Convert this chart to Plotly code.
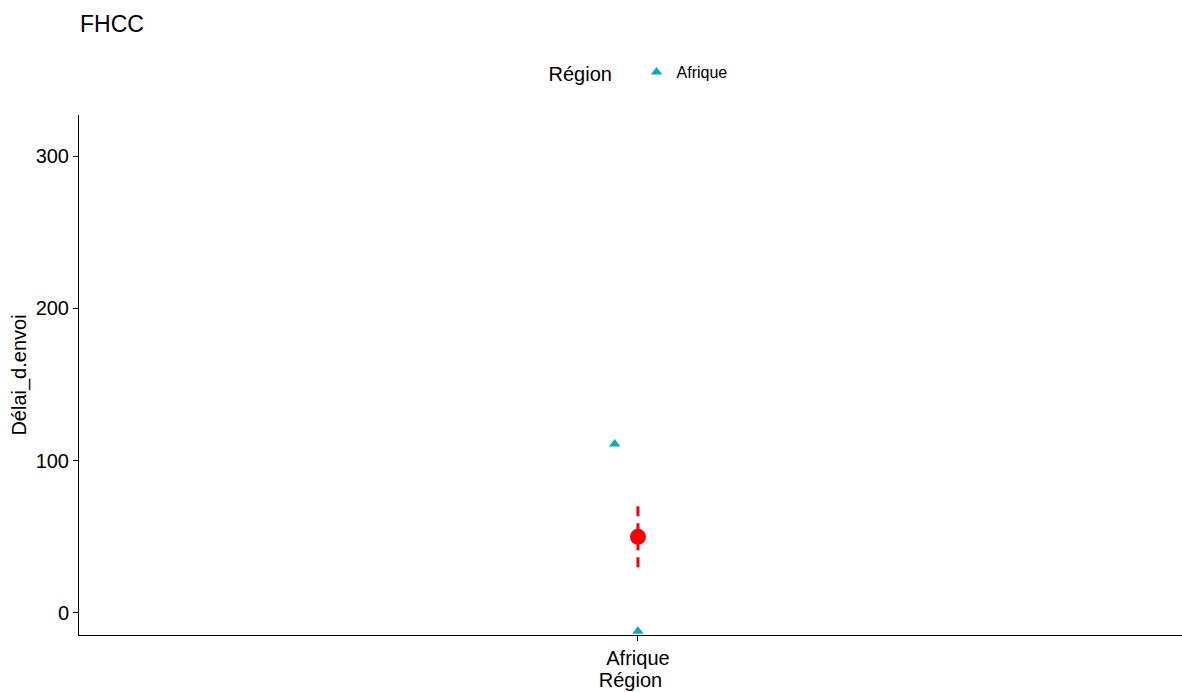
import plotly.graph_objects as go

# Observations per region
regions = ["Afrique", "Afrique"]
delai_values = [111, -12]
jitter = [-0.025, 0.0]

# Summary (mean with interval) per region
summary_regions = ["Afrique"]
summary_mean = [50]
summary_low = [30]
summary_high = [71]

categories = ["Afrique"]
y_ticks = [0, 100, 200, 300]

teal = "#00AFBB"
cat_pos = {c: i + 1 for i, c in enumerate(categories)}

fig = go.Figure()

fig.add_trace(go.Scatter(
    x=[cat_pos[r] + j for r, j in zip(regions, jitter)],
    y=delai_values,
    mode="markers",
    name="Afrique",
    marker=dict(symbol="triangle-up", size=10, color=teal),
    showlegend=True,
))

for r, lo, hi in zip(summary_regions, summary_low, summary_high):
    fig.add_trace(go.Scatter(
        x=[cat_pos[r], cat_pos[r]],
        y=[lo, hi],
        mode="lines",
        line=dict(color="red", width=3, dash="10px,7px"),
        showlegend=False,
        hoverinfo="skip",
    ))

fig.add_trace(go.Scatter(
    x=[cat_pos[r] for r in summary_regions],
    y=summary_mean,
    mode="markers",
    marker=dict(symbol="circle", size=16, color="red"),
    showlegend=False,
))

fig.update_layout(
    width=1182,
    height=692,
    paper_bgcolor="white",
    plot_bgcolor="white",
    margin=dict(l=79, r=0, t=115, b=57),
    font=dict(family="Liberation Sans, Arial, sans-serif", color="black"),
    title=dict(
        text="FHCC",
        x=80 / 1182,
        xanchor="left",
        y=1 - 24 / 692,
        yanchor="middle",
        font=dict(size=23, color="black"),
    ),
    legend=dict(
        orientation="h",
        x=501 / 1182,
        xanchor="left",
        y=1 + 42 / 520,
        yanchor="middle",
        title=dict(text="Région   ", font=dict(size=20)),
        font=dict(size=16),
        bgcolor="rgba(0,0,0,0)",
    ),
    xaxis=dict(
        range=[0.4, 1.584],
        tickvals=list(cat_pos.values()),
        ticktext=categories,
        showgrid=False,
        zeroline=False,
        showline=True,
        linecolor="black",
        linewidth=1,
        ticks="outside",
        ticklen=5,
        tickcolor="black",
        tickfont=dict(size=20, color="black"),
        title=dict(text="Région", font=dict(size=20), standoff=3),
        automargin=False,
    ),
    yaxis=dict(
        range=[-14.5, 327],
        tickvals=y_ticks,
        showgrid=False,
        zeroline=False,
        showline=True,
        linecolor="black",
        linewidth=1,
        ticks="outside",
        ticklen=5,
        tickcolor="black",
        tickfont=dict(size=20, color="black"),
        title=dict(text="Délai_d.envoi", font=dict(size=20), standoff=3),
        automargin=False,
    ),
)

fig.write_html("out.html")
